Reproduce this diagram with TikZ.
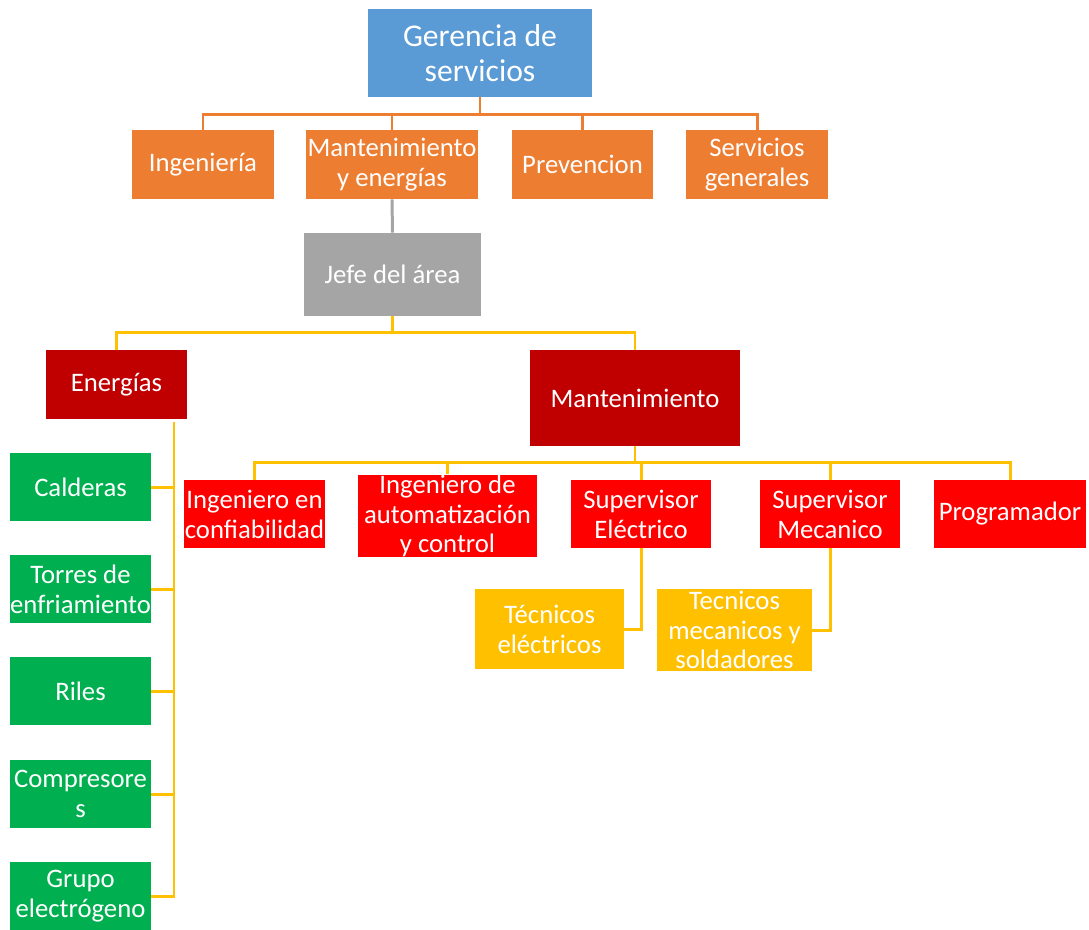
\documentclass[tikz,border=0pt]{standalone}
\usepackage{fontspec}
\setmainfont{Carlito}
\usepackage{tikz}
\usetikzlibrary{positioning,calc}

\definecolor{gerblue}{HTML}{5B9BD5}
\definecolor{areaorange}{HTML}{ED7D31}
\definecolor{jefegray}{HTML}{A5A5A5}
\definecolor{linkgold}{HTML}{FFC000}
\definecolor{deptred}{HTML}{C00000}
\definecolor{cargored}{HTML}{FF0000}
\definecolor{plantgreen}{HTML}{00B050}

\tikzstyle{block} = [rectangle, inner sep=0pt, align=center, text=white, font=\fontsize{15.2}{17}\selectfont]
\tikzstyle{link}  = [line width=1.7pt]

\begin{document}
\begin{tikzpicture}[x=0.02cm, y=-0.02cm]

    \useasboundingbox (0,0) rectangle (1089,930);

    % top of the chart
    \node[block, fill=gerblue, minimum width=4.48cm, minimum height=1.76cm, font=\fontsize{18}{20}\selectfont] (ger) at (480,53) {Gerencia de\\servicios};

    \node[block, fill=areaorange, minimum width=2.84cm, minimum height=1.38cm] (ing)  at (203,164.5)   {Ingeniería};
    \node[block, fill=areaorange, minimum width=3.44cm, minimum height=1.38cm] (mye)  at (392,164.5)   {Mantenimiento\\y energías};
    \node[block, fill=areaorange, minimum width=2.82cm, minimum height=1.38cm] (prev) at (582.5,164.5) {Prevencion};
    \node[block, fill=areaorange, minimum width=2.84cm, minimum height=1.38cm] (serv) at (757,164.5)   {Servicios\\generales};

    \node[block, fill=jefegray, minimum width=3.54cm, minimum height=1.66cm] (jefe) at (392.5,274.5) {Jefe del área};

    \node[block, fill=deptred, minimum width=2.82cm, minimum height=1.38cm] (ener) at (116.5,384.5) {Energías};
    \node[block, fill=deptred, minimum width=4.2cm,  minimum height=1.92cm] (mant) at (635,398)     {Mantenimiento};

    % mantenimiento staff
    \node[block, fill=cargored, minimum width=2.82cm, minimum height=1.36cm] (conf) at (254.5,514) {Ingeniero en\\confiabilidad};
    \node[block, fill=cargored, minimum width=3.58cm, minimum height=1.44cm] (auto) at (447.5,516) {Ingeniero de\\automatización\\y control};
    \node[block, fill=cargored, minimum width=2.8cm,  minimum height=1.36cm] (supe) at (641,514)   {Supervisor\\Eléctrico};
    \node[block, fill=cargored, minimum width=2.8cm,  minimum height=1.36cm] (supm) at (830,514)   {Supervisor\\Mecanico};
    \node[block, fill=cargored, minimum width=3.04cm, minimum height=1.36cm] (prog) at (1010,514)  {Programador};

    \node[block, fill=linkgold, minimum width=2.98cm, minimum height=1.6cm]  (tele) at (549.5,629) {Técnicos\\eléctricos};
    \node[block, fill=linkgold, minimum width=3.1cm,  minimum height=1.64cm] (tmec) at (734.5,630) {Tecnicos\\mecanicos y\\soldadores};

    % energias plants
    \node[block, fill=plantgreen, minimum width=2.82cm, minimum height=1.36cm] (cald) at (80.5,487) {Calderas};
    \node[block, fill=plantgreen, minimum width=2.82cm, minimum height=1.36cm] (torr) at (80.5,589) {Torres de\\enfriamiento};
    \node[block, fill=plantgreen, minimum width=2.82cm, minimum height=1.36cm] (rile) at (80.5,691) {Riles};
    \node[block, fill=plantgreen, minimum width=2.82cm, minimum height=1.36cm] (comp) at (80.5,794) {Compresore\\s};
    \node[block, fill=plantgreen, minimum width=2.82cm, minimum height=1.36cm] (grup) at (80.5,896) {Grupo\\electrógeno};

    \coordinate (ebus) at (174,422);

    \draw[link, areaorange] (ger.south) -- ++(0,17) -| (ing.north);
    \draw[link, areaorange] (ger.south) -- ++(0,17) -| (mye.north);
    \draw[link, areaorange] (ger.south) -- ++(0,17) -| (prev.north);
    \draw[link, areaorange] (ger.south) -- ++(0,17) -| (serv.north);

    \draw[link, jefegray] (mye.south) -- (jefe.north);

    \draw[link, linkgold] (jefe.south) -- ++(0,16) -| (ener.north);
    \draw[link, linkgold] (jefe.south) -- ++(0,16) -| (mant.north);

    \draw[link, linkgold] (mant.south) -- ++(0,16) -| (conf.north);
    \draw[link, linkgold] (mant.south) -- ++(0,16) -| (auto.north);
    \draw[link, linkgold] (mant.south) -- ++(0,16) -| (supe.north);
    \draw[link, linkgold] (mant.south) -- ++(0,16) -| (supm.north);
    \draw[link, linkgold] (mant.south) -- ++(0,16) -| (prog.north);

    \draw[link, linkgold] (supe.south) |- (tele.east);
    \draw[link, linkgold] (supm.south) |- (tmec.east);

    \draw[link, linkgold] (ebus) |- (cald.east);
    \draw[link, linkgold] (ebus) |- (torr.east);
    \draw[link, linkgold] (ebus) |- (rile.east);
    \draw[link, linkgold] (ebus) |- (comp.east);
    \draw[link, linkgold] (ebus) |- (grup.east);

\end{tikzpicture}
\end{document}
